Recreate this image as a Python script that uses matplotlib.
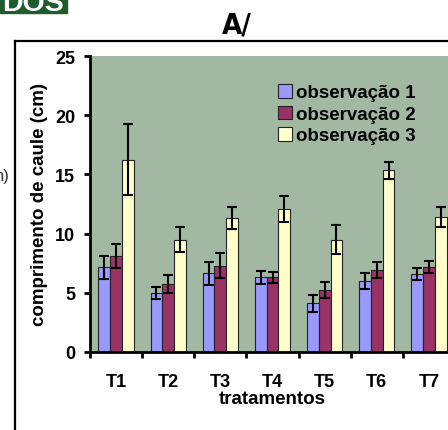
import numpy as np
import matplotlib
matplotlib.use("Agg")
import matplotlib.pyplot as plt
from matplotlib.patches import Rectangle
from matplotlib.lines import Line2D

# values
tratamentos = ["T1", "T2", "T3", "T4", "T5", "T6", "T7"]
series_names = ["observação 1", "observação 2", "observação 3"]
obs1 = [7.15, 4.98, 6.64, 6.30, 4.11, 6.00, 6.56]
obs1_err = [1.00, 0.50, 0.94, 0.52, 0.73, 0.65, 0.50]
obs2 = [8.08, 5.77, 7.29, 6.30, 5.26, 6.93, 7.20]
obs2_err = [1.00, 0.77, 1.03, 0.45, 0.69, 0.69, 0.50]
obs3 = [16.24, 9.49, 11.32, 12.08, 9.49, 15.34, 11.43]
obs3_err = [3.00, 1.07, 0.94, 1.10, 1.20, 0.73, 0.85]

colors = ["#9999ff", "#993366", "#ffffcc"]
bg = "#a2b8a2"

plt.rcParams["font.family"] = ["Liberation Sans", "DejaVu Sans"]
plt.rcParams["font.weight"] = "bold"

W, H = 448, 431
fig = plt.figure(figsize=(W / 100, H / 100), dpi=100)

# axes run past the right edge like in the cropped original
ax = fig.add_axes([90 / W, 78 / H, 365 / W, 296 / H])
ax.set_facecolor(bg)

x = np.arange(len(tratamentos))
bw = 0.225
data = [(obs1, obs1_err), (obs2, obs2_err), (obs3, obs3_err)]
for i, (vals, errs) in enumerate(data):
    ax.bar(x + (i - 1) * bw, vals, bw, color=colors[i], edgecolor="#222222",
           linewidth=0.8, label=series_names[i], zorder=2)
    ax.errorbar(x + (i - 1) * bw, vals, yerr=errs, fmt="none", ecolor="black",
                elinewidth=1.5, capsize=3.4, capthick=1.5, zorder=3)

ax.set_xlim(-0.5, len(tratamentos) - 0.5)
ax.set_ylim(0, 25)
ax.set_yticks([0, 5, 10, 15, 20, 25])

ax.set_xticks(np.arange(-0.5, len(tratamentos), 1))
ax.set_xticklabels([])
ax.set_xticks(x, minor=True)
ax.set_xticklabels(tratamentos, minor=True)

for s in ["top", "right"]:
    ax.spines[s].set_visible(False)
for s in ["left", "bottom"]:
    ax.spines[s].set_linewidth(2)

ax.tick_params(axis="both", which="major", width=2, length=4.3,
               labelsize=13, direction="out")
ax.tick_params(axis="y", pad=6.5)
ax.tick_params(axis="x", which="minor", length=0, pad=15, labelsize=13)

ax.set_ylabel("comprimento de caule (cm)", fontsize=13.5, fontweight="bold")
ax.yaxis.set_label_coords(-0.114, 0.5)
ax.set_xlabel("tratamentos", fontsize=13.5, fontweight="bold")
ax.xaxis.set_label_coords(0.5, -0.128)

ax.legend(loc="upper left", bbox_to_anchor=(278 / W, 1 - 85 / H),
          bbox_transform=fig.transFigure, frameon=False, fontsize=13.5,
          handlelength=0.75, handleheight=0.75, handletextpad=0.2,
          labelspacing=0.22, borderpad=0, borderaxespad=0)

# title and the surrounding page bits
fig.text(237 / W, 1 - 33 / H, "A/", ha="center", va="baseline", fontsize=21,
         fontweight="bold", fontstretch="condensed",
         family=["DejaVu Sans"])

fig.add_artist(Line2D([15 / W, 1], [1 - 41.5 / H, 1 - 41.5 / H],
                      transform=fig.transFigure, color="black", linewidth=1.6))
fig.add_artist(Line2D([15 / W, 15 / W], [0, 1 - 41.5 / H],
                      transform=fig.transFigure, color="black", linewidth=1.6))

fig.add_artist(Rectangle((0, 1 - 14 / H), 67 / W, 14 / H,
                         transform=fig.transFigure, color="#1e5b2e"))
fig.text(2 / W, 1 - 11 / H, "DOS", ha="left", va="baseline", fontsize=20.5,
         color="white", fontweight="bold")

fig.text(10 / W, 1 - 177 / H, "n)", ha="right", va="center", fontsize=12,
         color="#333333", fontweight="normal")

fig.savefig("out.png", dpi=100)
